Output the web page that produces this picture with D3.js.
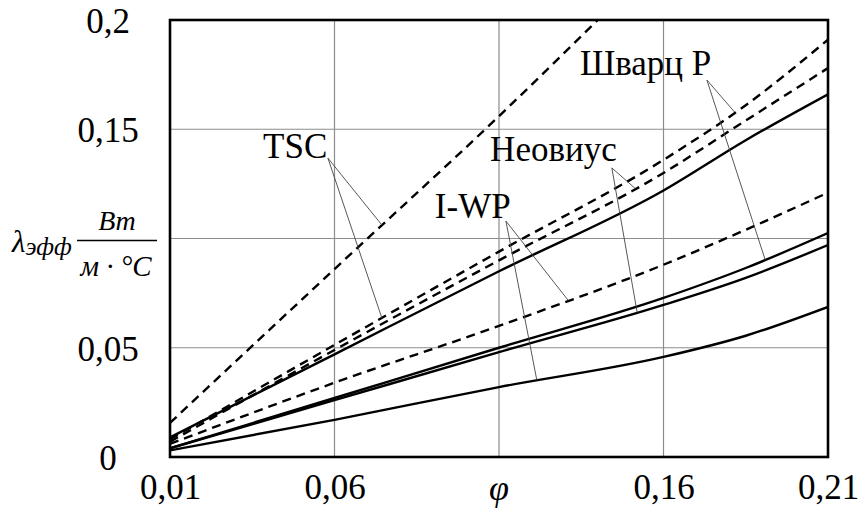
<!DOCTYPE html>
<html>
<head>
<meta charset="utf-8">
<script src="https://cdn.jsdelivr.net/npm/d3@7"></script>
<style>
  svg#chart text, svg#chart tspan { font-family: "Liberation Serif" !important; }
</style>
</head>
<body style="margin:0">
<svg id="chart" width="860" height="508"></svg>
<script>
// Porosity φ and effective thermal conductivity λэфф, W/(m·°C)
const phi = [0.01, 0.06, 0.11, 0.16, 0.185, 0.21];
const phiTscSteep = [0.01, 0.06, 0.11, 0.14];

const tscSteep   = [0.0156, 0.086, 0.156, 0.2];
const dashUpper  = [0.008, 0.0513, 0.094, 0.136, 0.161, 0.191];
const dashSecond = [0.007, 0.049, 0.090, 0.130, 0.154, 0.178];
const solidUpper = [0.009, 0.047, 0.085, 0.122, 0.145, 0.166];
const dashLower  = [0.006, 0.034, 0.060, 0.088, 0.104, 0.121];
const solidPairA = [0.004, 0.027, 0.050, 0.0728, 0.0865, 0.1025];
const solidPairB = [0.004, 0.026, 0.048, 0.0696, 0.082, 0.097];
const solidLow   = [0.003, 0.017, 0.032, 0.0458, 0.0555, 0.0687];

const xTicks = [0.01, 0.06, 0.11, 0.16, 0.21];
const xTickLabels = ["0,01", "0,06", "", "0,16", "0,21"];
const yTicks = [0, 0.05, 0.1, 0.15, 0.2];
const yTickLabels = ["0", "0,05", "", "0,15", "0,2"];

const series = [
  { id: "tscSteep",   xs: phiTscSteep, ys: tscSteep,   dashed: true },
  { id: "dashUpper",  xs: phi, ys: dashUpper,  dashed: true },
  { id: "dashSecond", xs: phi, ys: dashSecond, dashed: true },
  { id: "solidUpper", xs: phi, ys: solidUpper, dashed: false },
  { id: "dashLower",  xs: phi, ys: dashLower,  dashed: true },
  { id: "solidPairA", xs: phi, ys: solidPairA, dashed: false },
  { id: "solidPairB", xs: phi, ys: solidPairB, dashed: false },
  { id: "solidLow",   xs: phi, ys: solidLow,   dashed: false }
];

// Callout labels: text anchor and leader origin in data units, leader targets as (series, φ)
const callouts = [
  { text: "TSC",     at: [0.0383, 0.1368], from: [0.0580, 0.1368],
    to: [["tscSteep", 0.0744], ["dashUpper", 0.0744]] },
  { text: "I-WP",    at: [0.0905, 0.1094], from: [0.1121, 0.1080],
    to: [["dashLower", 0.131], ["solidLow", 0.1215]] },
  { text: "Неовиус", at: [0.1073, 0.1355], from: [0.1443, 0.1323],
    to: [["dashSecond", 0.1513], ["solidPairB", 0.152]] },
  { text: "Шварц Р", at: [0.1346, 0.1748], from: [0.1732, 0.1725],
    to: [["dashUpper", 0.1817], ["solidPairA", 0.1909]] }
];

const svg = d3.select("#chart");
const plotL = 170, plotR = 828, plotT = 20, plotB = 457;

const x = d3.scaleLinear().domain([0.01, 0.21]).range([plotL, plotR]);
const y = d3.scaleLinear().domain([0, 0.2]).range([plotB, plotT]);

function serifText(sel, size, italic) {
  return sel.attr("font-family", "Liberation Serif")
    .style("font-family", '"Liberation Serif"')
    .attr("font-size", size)
    .attr("font-style", italic ? "italic" : "normal")
    .attr("fill", "#000");
}

// grid
const grid = svg.append("g").attr("stroke", "#8c8c8c").attr("stroke-width", 1.2);
grid.selectAll("line.gx").data(xTicks.slice(1, -1)).join("line")
  .attr("class", "gx")
  .attr("x1", d => x(d)).attr("x2", d => x(d)).attr("y1", plotT).attr("y2", plotB);
grid.selectAll("line.gy").data(yTicks.slice(1, -1)).join("line")
  .attr("class", "gy")
  .attr("y1", d => y(d)).attr("y2", d => y(d)).attr("x1", plotL).attr("x2", plotR);

// curves
svg.append("clipPath").attr("id", "plotClip")
  .append("rect").attr("x", plotL).attr("y", plotT).attr("width", plotR - plotL).attr("height", plotB - plotT);

const line = d3.line().x(d => x(d[0])).y(d => y(d[1])).curve(d3.curveMonotoneX);
svg.append("g").attr("clip-path", "url(#plotClip)")
  .selectAll("path").data(series).join("path")
  .attr("d", s => line(s.xs.map((v, i) => [v, s.ys[i]])))
  .attr("fill", "none").attr("stroke", "#000").attr("stroke-width", 2.4)
  .attr("stroke-dasharray", s => s.dashed ? "9,6" : null);

// leaders
const byId = Object.fromEntries(series.map(s => [s.id, s]));
function valueAt(s, p) {
  return d3.scaleLinear().domain(s.xs).range(s.ys)(p);
}
const leaders = svg.append("g").attr("stroke", "#444").attr("stroke-width", 0.9);
callouts.forEach(c => {
  c.to.forEach(([id, p]) => {
    leaders.append("line")
      .attr("x1", x(c.from[0])).attr("y1", y(c.from[1]))
      .attr("x2", x(p)).attr("y2", y(valueAt(byId[id], p)));
  });
});

// frame
svg.append("rect").attr("x", plotL).attr("y", plotT)
  .attr("width", plotR - plotL).attr("height", plotB - plotT)
  .attr("fill", "none").attr("stroke", "#000").attr("stroke-width", 2.6);

// callout text
svg.append("g").selectAll("text").data(callouts).join("text")
  .attr("x", c => x(c.at[0])).attr("y", c => y(c.at[1]))
  .call(serifText, 35, false)
  .text(c => c.text);

// axes with comma-decimal labels
const xAxis = d3.axisBottom(x).tickValues(xTicks).tickSize(0).tickPadding(0)
  .tickFormat((d, i) => xTickLabels[i]);
const gx = svg.append("g").attr("transform", `translate(0,${plotB})`).call(xAxis);
gx.attr("font-family", "Liberation Serif").attr("font-size", 35);
gx.select(".domain").remove();
gx.selectAll("text").call(serifText, 35, false).attr("dy", null).attr("y", 42);

const yAxis = d3.axisLeft(y).tickValues(yTicks).tickSize(0).tickPadding(0)
  .tickFormat((d, i) => yTickLabels[i]);
const gy = svg.append("g").attr("transform", `translate(108,0)`).call(yAxis);
gy.attr("font-family", "Liberation Serif").attr("font-size", 35);
gy.select(".domain").remove();
gy.selectAll("text").call(serifText, 35, false)
  .attr("text-anchor", "middle").attr("x", 0).attr("dy", "0.35em");

// axis titles
svg.append("text").attr("x", x(0.11)).attr("y", 500)
  .attr("text-anchor", "middle").call(serifText, 36, true).text("φ");

const yl = svg.append("g");
const lam = yl.append("text").attr("x", 12).attr("y", 252).call(serifText, 31, true);
lam.append("tspan").text("λ");
lam.append("tspan").attr("font-size", 25).attr("dy", 3).text("эфф");
yl.append("text").attr("x", 117).attr("y", 230).attr("text-anchor", "middle")
  .call(serifText, 28, true).text("Вт");
yl.append("line").attr("x1", 77).attr("x2", 157).attr("y1", y(0.1) + 2).attr("y2", y(0.1) + 2)
  .attr("stroke", "#000").attr("stroke-width", 1.5);
yl.append("text").attr("x", 116).attr("y", 276).attr("text-anchor", "middle")
  .call(serifText, 29, true).text("м · °C");
</script>
</body>
</html>
